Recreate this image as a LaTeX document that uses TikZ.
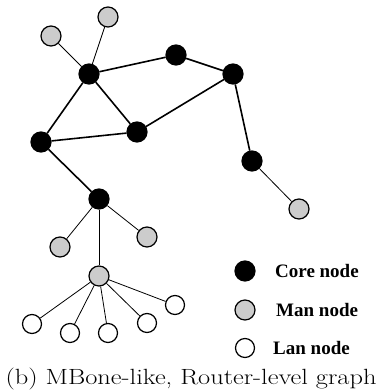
\documentclass[tikz,border=0pt]{standalone}
\usepackage{fontspec}
\newfontfamily\legendfont{Liberation Serif}
\begin{document}
\begin{tikzpicture}[x=1pt,y=-1pt,
  core/.style={circle,draw=black,fill=black,line width=1.2pt,minimum size=20pt,inner sep=0pt},
  man/.style={circle,draw=black,fill=black!20,line width=1.2pt,minimum size=20pt,inner sep=0pt},
  lan/.style={circle,draw=black,fill=white,line width=1.2pt,minimum size=19pt,inner sep=0pt},
  heavy/.style={line width=1.6pt},
  light/.style={line width=0.8pt},
  legendtext/.style={anchor=west,font=\legendfont\fontsize{19}{22}\selectfont\bfseries,inner sep=0pt}]
\useasboundingbox (0,0) rectangle (385,391);
% core routers
\node[core] (a) at (89,74) {};
\node[core] (b) at (176,55) {};
\node[core] (c) at (233,74) {};
\node[core] (d) at (137,132) {};
\node[core] (e) at (41,142) {};
\node[core] (f) at (252,161) {};
\node[core] (g) at (99,199) {};
% metropolitan routers
\node[man] (m1) at (51,36) {};
\node[man] (m2) at (108,17) {};
\node[man] (m3) at (299,209) {};
\node[man] (m4) at (60,247) {};
\node[man] (m5) at (147,237) {};
\node[man] (h) at (99,276) {};
% local routers
\node[lan] (l1) at (32,324) {};
\node[lan] (l2) at (70,333) {};
\node[lan] (l3) at (108,333) {};
\node[lan] (l4) at (147,323) {};
\node[lan] (l5) at (175,305) {};
% backbone links
\draw[heavy] (a) -- (b);
\draw[heavy] (b) -- (c);
\draw[heavy] (a) -- (d);
\draw[heavy] (a) -- (e);
\draw[heavy] (e) -- (d);
\draw[heavy] (d) -- (c);
\draw[heavy] (c) -- (f);
\draw[heavy] (e) -- (g);
% access links
\draw[light] (a) -- (m1);
\draw[light] (a) -- (m2);
\draw[light] (f) -- (m3);
\draw[light] (g) -- (m4);
\draw[light] (g) -- (m5);
\draw[light] (g) -- (h);
\foreach \l in {l1,l2,l3,l4,l5} \draw[light] (h) -- (\l);
% legend
\node[core] (k1) at (245,271) {};
\node[man] (k2) at (245,310) {};
\node[lan] (k3) at (245,348) {};
\node[legendtext] (t1) at (275,271) {Core node};
\node[legendtext] (t2) at (276,310) {Man node};
\node[legendtext] (t3) at (273,348) {Lan node};
% caption
\node[anchor=base,font=\fontsize{22}{26}\selectfont,inner sep=0pt] (cap) at (191,384) {\scalebox{1.2}[1]{(b) MBone-like, Router-level graph}};
\end{tikzpicture}
\end{document}
